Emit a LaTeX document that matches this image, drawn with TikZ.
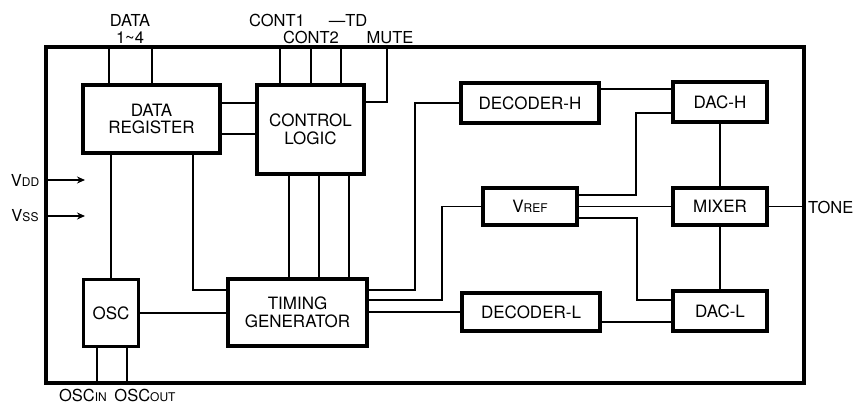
\documentclass[tikz,border=0pt]{standalone}
\usepackage{fontspec}
\setmainfont{TeX Gyre Heros}
\usetikzlibrary{arrows.meta}
\newcommand{\bfnt}{\fontsize{17}{17.5}\selectfont}
\newcommand{\lfnt}{\fontsize{16.5}{17}\selectfont}
\newcommand{\sfnt}{\fontsize{12}{12}\selectfont}
\tikzset{
  box/.style={draw, line width=3.2pt, align=center, font=\bfnt, inner sep=0pt},
  wire/.style={line width=1.6pt},
  lbl/.style={font=\lfnt, inner sep=0pt, align=center},
  pinarrow/.style={line width=1.6pt, -{Stealth[length=8pt,width=7pt]}}
}
\begin{document}
\begin{tikzpicture}[x=1pt,y=-1pt]
\useasboundingbox (0,0) rectangle (859,404);
% frame
\node[draw, line width=3.2pt, minimum width=758pt, minimum height=336pt, inner sep=0pt] (fr) at (425,215) {};
% blocks
\node[box, minimum width=137pt, minimum height=68pt] (dr) at (151.5,119) {DATA\\REGISTER};
\node[box, minimum width=107pt, minimum height=89pt] (cl) at (310.5,129.5) {CONTROL\\LOGIC};
\node[box, minimum width=55pt, minimum height=67pt] (osc) at (111,313) {OSC};
\node[box, minimum width=139pt, minimum height=67pt] (tg) at (297.5,312.5) {TIMING\\GENERATOR};
\node[box, minimum width=138pt, minimum height=40pt] (dech) at (530,103) {DECODER-H};
\node[box, minimum width=94pt, minimum height=40pt] (dach) at (720,102) {DAC-H};
\node[box, minimum width=94pt, minimum height=37pt] (vref) at (530,206.5) {V{\sfnt REF}};
\node[box, minimum width=94pt, minimum height=37pt] (mix) at (720,206.5) {MIXER};
\node[box, minimum width=94pt, minimum height=40pt] (dacl) at (720,311) {DAC-L};
\node[box, minimum width=138pt, minimum height=38pt] (decl) at (531,312) {DECODER-L};
% pin coordinates
\coordinate (pd1) at (109,47);
\coordinate (pd2) at (152,47);
\coordinate (pc1) at (280,47);
\coordinate (pc2) at (311,47);
\coordinate (ptd) at (341,47);
\coordinate (pmu) at (387,47);
\coordinate (po1) at (97,383);
\coordinate (po2) at (127,383);
\coordinate (vdd) at (46,180);
\coordinate (vss) at (46,216);
\coordinate (vddt) at (85,180);
\coordinate (vsst) at (85,216);
% top pins
\draw[wire] (pd1) -- (pd1 |- dr.north);
\draw[wire] (pd2) -- (pd2 |- dr.north);
\draw[wire] (pc1) -- (pc1 |- cl.north);
\draw[wire] (pc2) -- (pc2 |- cl.north);
\draw[wire] (ptd) -- (ptd |- cl.north);
\coordinate (mu1) at (387,102);
\draw[wire] (pmu) -- (mu1) -- (mu1 -| cl.east);
% DR - CL
\coordinate (r1) at (220,103);
\coordinate (r2) at (220,134);
\draw[wire] (r1) -- (r1 -| cl.west);
\draw[wire] (r2) -- (r2 -| cl.west);
% DR - OSC
\draw[wire] (dr.south -| osc.north) -- (osc.north);
% DR - TG
\coordinate (dt1) at (193,290);
\draw[wire] (dt1 |- dr.south) -- (dt1) -- (dt1 -| tg.west);
% CL - TG
\foreach \x in {289,319,349} {
  \coordinate (ct) at (\x,200);
  \draw[wire] (ct |- cl.south) -- (ct |- tg.north);
}
% OSC - TG
\draw[wire] (osc.east) -- (osc.east -| tg.west);
% OSC pins
\draw[wire] (po1) -- (po1 |- osc.south);
\draw[wire] (po2) -- (po2 |- osc.south);
% TG - DEC-H
\coordinate (t1a) at (415,290);
\coordinate (t1b) at (415,103);
\draw[wire] (t1a -| tg.east) -- (t1a) -- (t1b) -- (dech.west);
% TG - VREF
\coordinate (t2a) at (442,300);
\coordinate (t2b) at (442,206.5);
\draw[wire] (t2a -| tg.east) -- (t2a) -- (t2b) -- (vref.west);
% TG - DEC-L
\draw[wire] (decl.west -| tg.east) -- (decl.west);
% DEC-H - DAC-H
\coordinate (h1) at (600,89);
\draw[wire] (h1) -- (h1 -| dach.west);
% VREF - DAC-H
\coordinate (v1a) at (577,195);
\coordinate (v1b) at (636,195);
\coordinate (v1c) at (636,113);
\draw[wire] (v1a) -- (v1b) -- (v1c) -- (v1c -| dach.west);
% VREF - MIXER
\draw[wire] (vref.east) -- (mix.west);
% VREF - DAC-L
\coordinate (v3a) at (577,218);
\coordinate (v3b) at (637,218);
\coordinate (v3c) at (637,300);
\draw[wire] (v3a) -- (v3b) -- (v3c) -- (v3c -| dacl.west);
% DAC-H - MIXER - DAC-L
\draw[wire] (dach.south) -- (mix.north);
\draw[wire] (mix.south) -- (dacl.north);
% MIXER - TONE
\draw[wire] (mix.east) -- (mix.east -| fr.east);
% DEC-L - DAC-L
\coordinate (l1) at (600,322);
\draw[wire] (l1) -- (l1 -| dacl.west);
% supply arrows
\draw[pinarrow] (vdd) -- (vddt);
\draw[pinarrow] (vss) -- (vsst);
% labels
\node[lbl] (tdata) at (130,28.5) {DATA\\1\textasciitilde 4};
\node[lbl] (tc1) at (277,20.5) {CONT1};
\node[lbl] (ttd) at (348,20.5) {\textemdash TD};
\node[lbl] (tc2) at (311,37.5) {CONT2};
\node[lbl] (tmu) at (390,37.5) {MUTE};
\node[lbl] (tvdd) at (25,180) {V{\sfnt DD}};
\node[lbl] (tvss) at (25,216) {V{\sfnt SS}};
\node[lbl] (toi) at (83,395) {OSC{\sfnt IN}};
\node[lbl] (too) at (145,395) {OSC{\sfnt OUT}};
\node[lbl, anchor=west] (tto) at (808,207) {TONE};
\end{tikzpicture}
\end{document}
